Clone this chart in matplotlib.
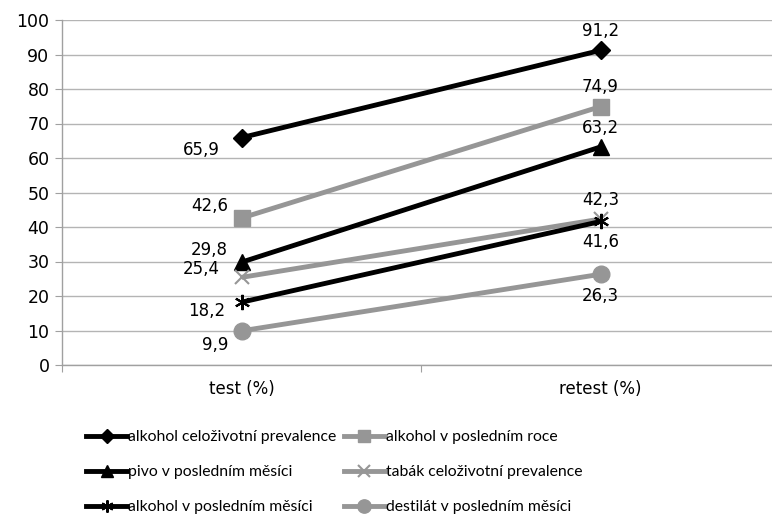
import matplotlib
matplotlib.use("Agg")
import matplotlib.pyplot as plt
from matplotlib.lines import Line2D

categories = ["test (%)", "retest (%)"]
series_names = [
    "alkohol celoživotní prevalence",
    "alkohol v posledním roce",
    "pivo v posledním měsíci",
    "tabák celoživotní prevalence",
    "alkohol v posledním měsíci",
    "destilát v posledním měsíci",
]
alk_celo = [65.9, 91.2]
alk_rok = [42.6, 74.9]
pivo_mes = [29.8, 63.2]
tabak_celo = [25.4, 42.3]
alk_mes = [18.2, 41.6]
destilat_mes = [9.9, 26.3]
values = [alk_celo, alk_rok, pivo_mes, tabak_celo, alk_mes, destilat_mes]

BLACK = "#000000"
GREY = "#969696"
styles = [
    dict(color=BLACK, marker="D", ms=9),
    dict(color=GREY, marker="s", ms=11),
    dict(color=BLACK, marker="^", ms=11),
    dict(color=GREY, marker="x", ms=10, mew=1.5),
    dict(color=BLACK, marker=(6, 2, 0), ms=11, mew=1.5),
    dict(color=GREY, marker="o", ms=12),
]
# label offsets in points (test, retest)
offsets = [
    [(-29, -9), (0, 14)],
    [(-23, 9), (0, 14)],
    [(-23, 9), (0, 14)],
    [(-29, 6), (0, 14)],
    [(-25, -6), (0, -15)],
    [(-19, -10), (0, -16)],
]

fig = plt.figure(figsize=(7.72, 5.19), dpi=100)
ax = fig.add_axes([62 / 772, 1 - 365 / 519, 718 / 772, 345 / 519])

x = [0.5, 1.5]
for name, vals, st, offs in zip(series_names, values, styles, offsets):
    ax.plot(x, vals, lw=3.5, color=st["color"], marker=st["marker"],
            ms=st["ms"], mew=st.get("mew", 1), mec=st["color"],
            mfc=st["color"], label=name, solid_capstyle="butt", zorder=3)
    for xi, v, off in zip(x, vals, offs):
        ax.annotate(f"{v:.1f}".replace(".", ","), (xi, v), xytext=off,
                    textcoords="offset points", ha="center", va="center",
                    fontsize=12, family="DejaVu Sans", color="#000000")

ax.set_xlim(0, 2)
ax.set_ylim(0, 100)
ax.set_yticks(range(0, 101, 10))
ax.set_xticks([0, 1, 2])
ax.set_xticklabels([])
ax.set_xticks(x, minor=True)
ax.set_xticklabels(categories, minor=True)
ax.tick_params(axis="x", which="minor", length=0, pad=11, labelsize=12)
ax.tick_params(axis="x", which="major", length=5, color="#a0a0a0", direction="out")
ax.tick_params(axis="y", length=5, color="#a0a0a0", direction="out", labelsize=12.5, pad=4)
ax.grid(axis="y", color="#b4b4b4", lw=1)
ax.set_axisbelow(True)
for s in ["top", "right"]:
    ax.spines[s].set_visible(False)
for s in ["left", "bottom"]:
    ax.spines[s].set_color("#a0a0a0")
    ax.spines[s].set_linewidth(1)

order = [0, 2, 4, 1, 3, 5]
leg_handles = []
for i in order:
    st = styles[i]
    leg_handles.append(Line2D([], [], lw=3.5, color=st["color"], marker=st["marker"],
                              ms=st["ms"] * 0.8, mew=st.get("mew", 1), mec=st["color"],
                              mfc=st["color"]))
leg = fig.legend(leg_handles, [series_names[i] for i in order], ncol=2,
                 loc="upper left", bbox_to_anchor=(80 / 772, 1 - 424 / 519),
                 frameon=False, prop=dict(family="Lato", size=11.3),
                 handlelength=2.6, handletextpad=0.05, columnspacing=0.5,
                 labelspacing=1.33, borderaxespad=0)

fig.savefig("out.png", dpi=100)
